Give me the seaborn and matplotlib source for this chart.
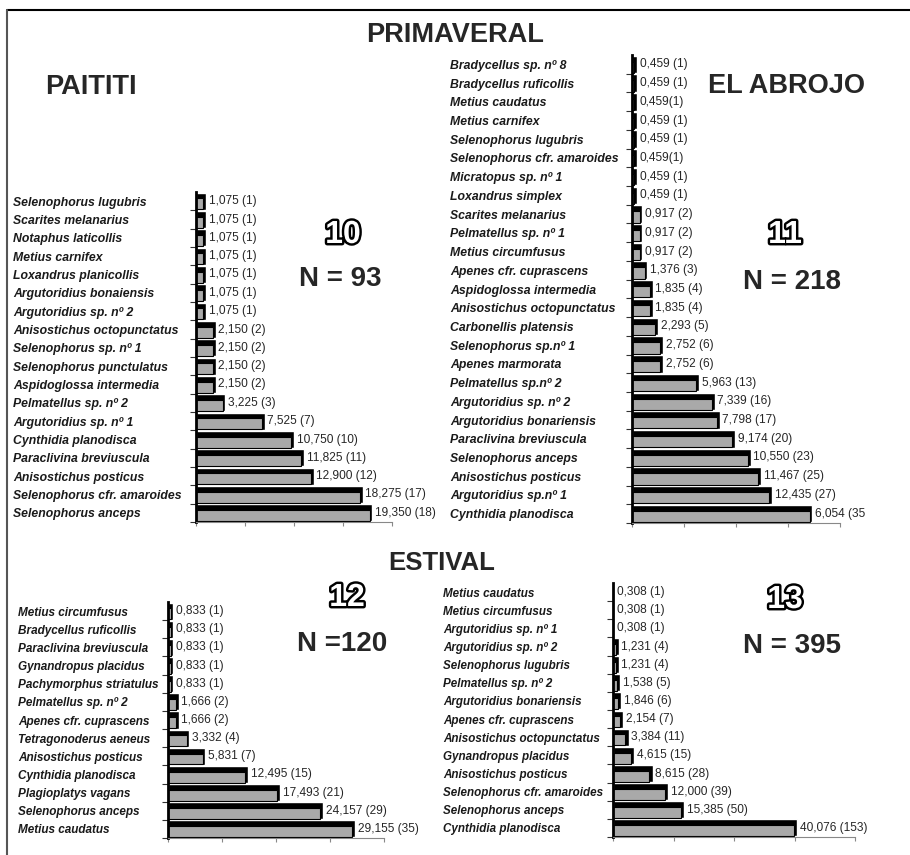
import numpy as np
import pandas as pd
import matplotlib
matplotlib.use('Agg')
import matplotlib.pyplot as plt
import matplotlib.patheffects as pe
from matplotlib.lines import Line2D
import seaborn as sns

sns.set_style('white')
plt.rcParams['font.family'] = ['Liberation Sans', 'DejaVu Sans']

# --- PRIMAVERAL / PAITITI (10)
sp_10 = ['Selenophorus lugubris', 'Scarites melanarius', 'Notaphus laticollis',
         'Metius carnifex', 'Loxandrus planicollis', 'Argutoridius bonaiensis',
         'Argutoridius sp. nº 2', 'Anisostichus octopunctatus', 'Selenophorus sp. nº 1',
         'Selenophorus punctulatus', 'Aspidoglossa intermedia', 'Pelmatellus sp. nº 2',
         'Argutoridius sp. nº 1', 'Cynthidia planodisca', 'Paraclivina breviuscula',
         'Anisostichus posticus', 'Selenophorus cfr. amaroides', 'Selenophorus anceps']
pct_10 = [1.075, 1.075, 1.075, 1.075, 1.075, 1.075, 1.075, 2.150, 2.150, 2.150,
          2.150, 3.225, 7.525, 10.750, 11.825, 12.900, 18.275, 19.350]
lab_10 = ['1,075 (1)'] * 7 + ['2,150 (2)'] * 4 + ['3,225 (3)', '7,525 (7)', '10,750 (10)',
          '11,825 (11)', '12,900 (12)', '18,275 (17)', '19,350 (18)']

# --- PRIMAVERAL / EL ABROJO (11)
sp_11 = ['Bradycellus sp. nº 8', 'Bradycellus ruficollis', 'Metius caudatus',
         'Metius carnifex', 'Selenophorus lugubris', 'Selenophorus cfr. amaroides',
         'Micratopus sp. nº 1', 'Loxandrus simplex', 'Scarites melanarius',
         'Pelmatellus sp. nº 1', 'Metius circumfusus', 'Apenes cfr. cuprascens',
         'Aspidoglossa intermedia', 'Anisostichus octopunctatus', 'Carbonellis platensis',
         'Selenophorus sp.nº 1', 'Apenes marmorata', 'Pelmatellus sp.nº 2',
         'Argutoridius sp. nº 2', 'Argutoridius bonariensis', 'Paraclivina breviuscula',
         'Selenophorus anceps', 'Anisostichus posticus', 'Argutoridius sp.nº 1',
         'Cynthidia planodisca']
pct_11 = [0.459, 0.459, 0.459, 0.459, 0.459, 0.459, 0.459, 0.459, 0.917, 0.917,
          0.917, 1.376, 1.835, 1.835, 2.293, 2.752, 2.752, 5.963, 7.339, 7.798,
          9.174, 10.550, 11.467, 12.435, 16.054]
lab_11 = ['0,459 (1)', '0,459 (1)', '0,459(1)', '0,459 (1)', '0,459 (1)', '0,459(1)',
          '0,459 (1)', '0,459 (1)', '0,917 (2)', '0,917 (2)', '0,917 (2)', '1,376 (3)',
          '1,835 (4)', '1,835 (4)', '2,293 (5)', '2,752 (6)', '2,752 (6)', '5,963 (13)',
          '7,339 (16)', '7,798 (17)', '9,174 (20)', '10,550 (23)', '11,467 (25)',
          '12,435 (27)', '6,054 (35']

# --- ESTIVAL / PAITITI (12)
sp_12 = ['Metius circumfusus', 'Bradycellus ruficollis', 'Paraclivina breviuscula',
         'Gynandropus placidus', 'Pachymorphus striatulus', 'Pelmatellus sp. nº 2',
         'Apenes cfr. cuprascens', 'Tetragonoderus aeneus', 'Anisostichus posticus',
         'Cynthidia planodisca', 'Plagioplatys vagans', 'Selenophorus anceps',
         'Metius caudatus']
pct_12 = [0.833, 0.833, 0.833, 0.833, 0.833, 1.666, 1.666, 3.332, 5.831, 12.495,
          17.493, 24.157, 29.155]
lab_12 = ['0,833 (1)'] * 5 + ['1,666 (2)', '1,666 (2)', '3,332 (4)', '5,831 (7)',
          '12,495 (15)', '17,493 (21)', '24,157 (29)', '29,155 (35)']

# --- ESTIVAL / EL ABROJO (13)
sp_13 = ['Metius caudatus', 'Metius circumfusus', 'Argutoridius sp. nº 1',
         'Argutoridius sp. nº 2', 'Selenophorus lugubris', 'Pelmatellus sp. nº 2',
         'Argutoridius bonariensis', 'Apenes cfr. cuprascens', 'Anisostichus octopunctatus',
         'Gynandropus placidus', 'Anisostichus posticus', 'Selenophorus cfr. amaroides',
         'Selenophorus anceps', 'Cynthidia planodisca']
pct_13 = [0.308, 0.308, 0.308, 1.231, 1.231, 1.538, 1.846, 2.154, 3.384, 4.615,
          8.615, 12.000, 15.385, 40.076]
lab_13 = ['0,308 (1)'] * 3 + ['1,231 (4)', '1,231 (4)', '1,538 (5)', '1,846 (6)',
          '2,154 (7)', '3,384 (11)', '4,615 (15)', '8,615 (28)', '12,000 (39)',
          '15,385 (50)', '40,076 (153)']

W, H = 910, 855
fig = plt.figure(figsize=(W / 100, H / 100), dpi=100)


def px_axes(left, top, right, bottom):
    return fig.add_axes([left / W, 1 - bottom / H, (right - left) / W, (bottom - top) / H])


def panel(ax, names, pct, labels, xmax, name_x, spine_x, fs=8.8):
    df = pd.DataFrame({'especie': names, 'pct': pct})
    # cara superior/lateral negra y cara frontal gris (efecto 3D)
    sns.barplot(data=df, x='pct', y='especie', color='black', width=0.94,
                saturation=1, ax=ax)
    sns.barplot(data=df, x='pct', y='especie', color='#a9a9a9', width=0.6,
                saturation=1, edgecolor='black', linewidth=0.8, ax=ax)
    depth = xmax * 0.013
    for p in ax.containers[1]:
        p.set_y(p.get_y() + 0.15)
        p.set_width(max(p.get_width() - depth, 0))
    ax.bar_label(ax.containers[0], labels=labels, padding=2, fontsize=8.6)
    n = len(names)
    ax.set_xlim(0, xmax)
    ax.set_ylim(n - 0.5, -0.5)
    ax.set_xlabel('')
    ax.set_ylabel('')
    ax.set_xticks(np.linspace(0, xmax, 5))
    ax.set_xticklabels([])
    ax.set_yticks(np.arange(n - 0.5, -0.5, -1), minor=True)
    ax.tick_params(axis='y', which='major', length=0, pad=(spine_x - name_x) * 0.72)
    ax.tick_params(axis='y', which='minor', left=True, length=4, width=0.8, color='#333333')
    ax.tick_params(axis='x', bottom=True, length=3, width=0.8, color='#888888')
    for t in ax.get_yticklabels():
        t.set_ha('left')
        t.set_fontsize(fs)
        t.set_fontweight('bold')
        t.set_fontstyle('italic')
        t.set_color('#1a1a1a')
    for s in ['top', 'right']:
        ax.spines[s].set_visible(False)
    ax.spines['left'].set_linewidth(2)
    ax.spines['left'].set_color('black')
    ax.spines['bottom'].set_linewidth(0.8)
    ax.spines['bottom'].set_color('#888888')
    ax.grid(False)


ax10 = px_axes(196, 192, 392, 522)
panel(ax10, sp_10, pct_10, lab_10, 21.5, 13, 196)
ax11 = px_axes(632, 55, 840, 523)
panel(ax11, sp_11, pct_11, lab_11, 18.5, 450, 632)
ax12 = px_axes(168, 602, 384, 838)
panel(ax12, sp_12, pct_12, lab_12, 33.7, 18, 168, fs=8.5)
ax13 = px_axes(613, 583, 855, 837)
panel(ax13, sp_13, pct_13, lab_13, 52.6, 443, 613, fs=8.4)


def ftext(x, y, s, size, **kw):
    return fig.text(x / W, 1 - y / H, s, fontsize=size, fontweight='bold',
                    ha='center', va='center', **kw)


ftext(455, 35, 'PRIMAVERAL', 19.5)
ftext(91, 87, 'PAITITI', 19.5)
ftext(787, 86, 'EL ABROJO', 19.5)
ftext(442, 563, 'ESTIVAL', 18.5)

outline = [pe.withStroke(linewidth=3.5, foreground='black')]
for x, y, s in [(343, 235, '10'), (785, 235, '11'), (347, 598, '12'), (785, 600, '13')]:
    ftext(x, y, s, 23, color='white', path_effects=outline)

ftext(340, 279, 'N = 93', 20)
ftext(792, 282, 'N = 218', 20)
ftext(342, 644, 'N =120', 20)
ftext(792, 646, 'N = 395', 20)

# marco
fig.add_artist(Line2D([7 / W, 1], [1 - 10 / H, 1 - 10 / H], color='black', lw=1.5))
fig.add_artist(Line2D([7 / W, 7 / W], [0, 1 - 10 / H], color='#555555', lw=1.5))

fig.savefig('out.png', dpi=100)
